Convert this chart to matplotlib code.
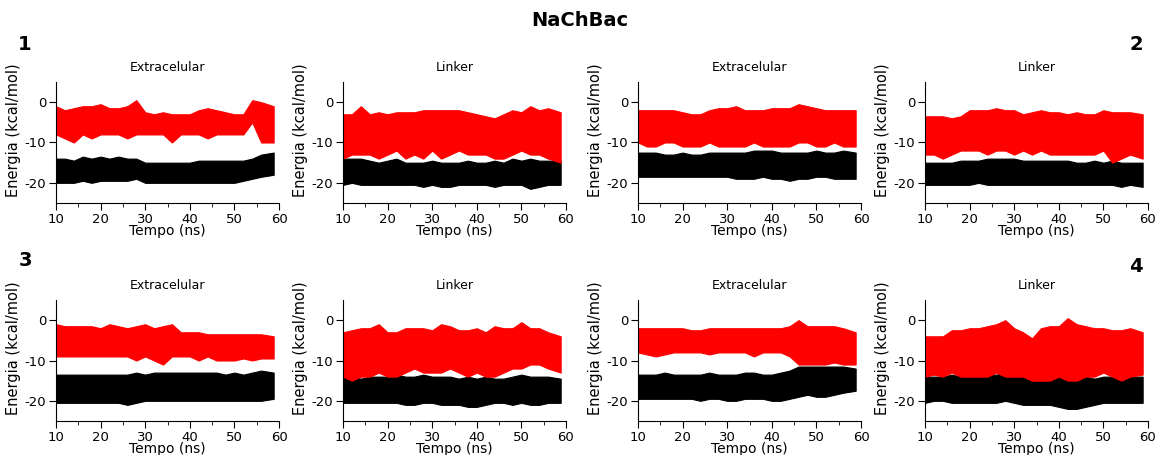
"""
Energia de interacao ao longo do tempo - NaChBac.
"""

import matplotlib
matplotlib.use('Agg')
from matplotlib import pyplot as plt
from matplotlib.ticker import MultipleLocator

plt.rcParams['axes.unicode_minus'] = False

# tempo (ns) where the trace envelopes were read
tempo = [10, 12, 14, 16, 18, 20, 22, 24, 26, 28, 30, 32, 34, 36, 38, 40,
         42, 44, 46, 48, 50, 52, 54, 56, 58.8]

titulos = ['Extracelular', 'Linker', 'Extracelular', 'Linker',
           'Extracelular', 'Linker', 'Extracelular', 'Linker']

# red trace: upper / lower envelope per panel
red_top = [
    [-1, -2, -1.5, -1, -1, -0.5, -1.5, -1.5, -1, 0.5, -2.5, -3, -2.5, -3, -3, -3, -2, -1.5, -2, -2.5, -3, -3, 0.5, 0, -1],
    [-3, -3, -1, -3, -2.5, -3, -2.5, -2.5, -2.5, -2, -2, -2, -2, -2, -2.5, -3, -3.5, -4, -3, -2, -2.5, -1, -2, -1.5, -2.5],
    [-2, -2, -2, -2, -2, -2.5, -3, -3, -2, -1.5, -1.5, -1, -2, -2, -2, -1.5, -1.5, -1.5, -0.5, -1, -1.5, -2, -2, -2, -2],
    [-3.5, -3.5, -3.5, -4, -3.5, -2, -2, -2, -1.5, -2, -2, -3, -2.5, -2, -2.5, -2.5, -3, -2.5, -3, -3, -2, -2.5, -2.5, -2.5, -3],
    [-1, -1.5, -1.5, -1.5, -1.5, -2, -1, -1.5, -2, -1.5, -1, -2, -1.5, -1, -3, -3, -3, -3.5, -3.5, -3.5, -3.5, -3.5, -3.5, -3.5, -4],
    [-3, -2.5, -2, -2, -1, -3, -3, -2, -2, -2, -2.5, -1, -1.5, -2.5, -2.5, -2, -3, -1.5, -2, -2, -0.5, -2, -2, -3, -4],
    [-2, -2, -2, -2, -2, -2, -2.5, -2.5, -2, -2, -2, -2, -2, -2, -2, -2, -2, -1.5, 0, -1.5, -1.5, -1.5, -1.5, -2, -3],
    [-4, -4, -4, -2.5, -2.5, -2, -2, -1.5, -1, 0, -2, -3, -4.5, -2, -1.5, -1.5, 0.5, -1, -1.5, -2, -2, -2.5, -2.5, -2, -3],
]
red_bot = [
    [-8, -9, -10, -8, -9, -8, -8, -8, -9, -8, -8, -8, -8, -10, -8, -8, -8, -9, -8, -8, -8, -8, -5, -10, -10],
    [-14, -13, -13, -13, -14, -13, -12, -14, -13, -14, -12, -14, -13, -12, -13, -13, -13, -14, -14, -13, -12, -13, -13, -14, -15],
    [-10, -11, -11, -10, -10, -11, -11, -11, -10, -11, -11, -11, -11, -10, -11, -11, -11, -11, -10, -10, -11, -11, -10, -11, -11],
    [-13, -13, -14, -13, -12, -12, -12, -13, -12, -12, -13, -12, -13, -12, -13, -13, -13, -13, -13, -13, -12, -15, -14, -13, -14],
    [-9, -9, -9, -9, -9, -9, -9, -9, -9, -10, -9, -10, -11, -9, -9, -9, -10, -9, -10, -10, -10, -9.5, -10, -9.5, -9.5],
    [-14, -15, -14, -14, -13, -14, -14, -13, -12, -13, -13, -13, -12, -13, -14, -13, -14, -14, -13, -12, -12, -11, -11, -12, -13],
    [-8, -8.5, -9, -8.5, -8, -8, -8, -8, -8.5, -8, -8, -8, -8, -9, -8, -8, -8, -9, -11, -11, -11, -11, -10.5, -11, -11],
    [-14, -13.5, -14, -13, -14, -14, -14, -14, -13, -14, -14, -14, -15, -15, -15, -14, -15, -15, -14, -14, -13, -14, -15, -14, -13.5],
]

# black trace: upper / lower envelope per panel
blk_top = [
    [-14, -14, -14.5, -13.5, -14, -13.5, -14, -13.5, -14, -14, -15, -15, -15, -15, -15, -15, -14.5, -14.5, -14.5, -14.5, -14.5, -14.5, -14, -13, -12.5],
    [-14, -14, -14, -14.5, -15, -14.5, -14, -15, -15, -15, -14.5, -15, -15, -15, -14.5, -15, -15, -14.5, -15, -14, -14.5, -14, -14.5, -14.5, -14.5],
    [-12.5, -12.5, -12.5, -13, -13, -12.5, -13, -13, -12.5, -12.5, -12.5, -12.5, -12.5, -12, -12, -12, -12.5, -12.5, -12.5, -12.5, -12, -12.5, -12.5, -12, -12.5],
    [-15, -15, -15, -15, -14.5, -14.5, -14.5, -14, -14, -14, -14, -14.5, -14.5, -14.5, -14.5, -14.5, -14.5, -15, -15, -14.5, -15, -14.5, -15, -15, -15],
    [-13.5, -13.5, -13.5, -13.5, -13.5, -13.5, -13.5, -13.5, -13.5, -13, -13.5, -13, -13, -13, -13, -13, -13, -13, -13, -13.5, -13, -13.5, -13, -12.5, -13],
    [-13, -14, -14.5, -14, -14, -14, -13.5, -14, -14, -13.5, -14, -14, -14, -14.5, -14, -14.5, -14, -14.5, -14.5, -14, -13.5, -14, -14, -14, -14.5],
    [-13.5, -13.5, -13.5, -13, -13.5, -13.5, -13.5, -13.5, -13, -13.5, -13.5, -13.5, -13, -13, -13.5, -13.5, -13, -12.5, -11.5, -11.5, -11.5, -11.5, -11.5, -11.5, -12],
    [-14, -14, -14, -13.5, -14, -14, -14, -13.5, -13.5, -13, -13.5, -13.5, -14, -14, -14, -14, -14.5, -14.5, -14, -14.5, -14, -14, -14, -14, -14],
]
blk_bot = [
    [-20, -20, -20, -19.5, -20, -19.5, -19.5, -19.5, -19.5, -19, -20, -20, -20, -20, -20, -20, -20, -20, -20, -20, -20, -19.5, -19, -18.5, -18],
    [-20.5, -20, -20.5, -20.5, -20.5, -20.5, -20.5, -20.5, -20.5, -21, -20.5, -21, -21, -20.5, -20.5, -20.5, -20.5, -21, -20.5, -20.5, -20.5, -21.5, -21, -20.5, -20.5],
    [-18.5, -18.5, -18.5, -18.5, -18.5, -18.5, -18.5, -18.5, -18.5, -18.5, -18.5, -19, -19, -19, -18.5, -19, -19, -19.5, -19, -19, -18.5, -18.5, -19, -19, -19],
    [-20.5, -20.5, -20.5, -20.5, -20.5, -20.5, -20, -20.5, -20.5, -20.5, -20.5, -20.5, -20.5, -20.5, -20.5, -20.5, -20.5, -20.5, -20.5, -20.5, -20.5, -20.5, -21, -20.5, -21],
    [-20.5, -20.5, -20.5, -20.5, -20.5, -20.5, -20.5, -20.5, -21, -20.5, -20, -20, -20, -20, -20, -20, -20, -20, -20, -20, -20, -20, -20, -20, -19.5],
    [-20.5, -20.5, -20.5, -20.5, -20.5, -20.5, -20.5, -21, -21, -20.5, -20.5, -21, -21, -21, -21.5, -21.5, -21, -20.5, -20.5, -21, -20.5, -21, -21, -20.5, -20.5],
    [-19.5, -19.5, -19.5, -19.5, -19.5, -19.5, -19.5, -20, -19.5, -19.5, -20, -20, -19.5, -19.5, -19.5, -20, -20, -19.5, -19, -18.5, -19, -19, -18.5, -18, -17.5],
    [-20.5, -20, -20, -20.5, -20.5, -20.5, -20.5, -20.5, -20.5, -20, -20.5, -21, -21, -21, -21, -21.5, -22, -22, -21.5, -21, -20.5, -20.5, -20.5, -20.5, -20.5],
]

W, H = 1159, 455
fig = plt.figure(figsize=(W / 100., H / 100.), dpi=100)

lefts = [56, 343, 638, 925]
rows = [(82, 203), (300, 421)]
width = 223

for k in range(8):
    r, c = divmod(k, 4)
    top, bot = rows[r]
    ax = fig.add_axes([lefts[c] / W, 1 - bot / H, width / W, (bot - top) / H])
    ax.fill_between(tempo, blk_bot[k], blk_top[k], color='black', linewidth=0.8)
    ax.fill_between(tempo, red_bot[k], red_top[k], color='red', linewidth=0.8)
    ax.set_xlim(10, 60)
    ax.set_ylim(-25, 5)
    ax.set_xticks([10, 20, 30, 40, 50, 60])
    ax.set_yticks([-20, -10, 0])
    ax.xaxis.set_minor_locator(MultipleLocator(5))
    ax.spines['top'].set_visible(False)
    ax.spines['right'].set_visible(False)
    ax.tick_params(direction='out', length=5, labelsize=9.5, pad=2)
    ax.tick_params(which='minor', direction='out', length=3)
    ax.set_title(titulos[k], fontsize=9, pad=8)
    ax.set_xlabel('Tempo (ns)', fontsize=10, labelpad=-1)
    ax.set_ylabel('Energia (kcal/mol)', fontsize=10.5)
    ax.yaxis.set_label_coords(-0.155, 0.6)

fig.text(0.5, 1 - 20 / H, 'NaChBac', ha='center', va='center', fontsize=14, fontweight='bold')
for lbl, (px, py) in zip(['1', '2', '3', '4'], [(25, 44), (1136, 44), (25, 261), (1136, 266)]):
    fig.text(px / W, 1 - py / H, lbl, ha='center', va='center', fontsize=14, fontweight='bold')

fig.savefig('out.png', dpi=100)
